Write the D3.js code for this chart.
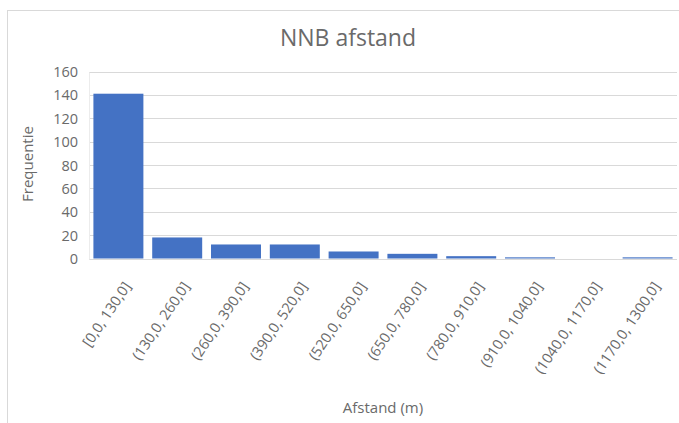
<!DOCTYPE html>
<html>
<head>
<meta charset="utf-8">
<script src="https://cdn.jsdelivr.net/npm/d3@7"></script>
<style>
  html, body { margin: 0; padding: 0; background: #ffffff; overflow: hidden; }
  svg { display: block; }
  text { font-family: "Open Sans", "Noto Sans", sans-serif; fill: #6a6a6a; }
</style>
</head>
<body>
<script>
const categories = ["[0,0, 130,0]", "(130,0, 260,0]", "(260,0, 390,0]", "(390,0, 520,0]", "(520,0, 650,0]",
                    "(650,0, 780,0]", "(780,0, 910,0]", "(910,0, 1040,0]", "(1040,0, 1170,0]", "(1170,0, 1300,0]"];
const frequencies = [141, 18, 12, 12, 6, 4, 2, 1, 0, 1];
const yTicks = [0, 20, 40, 60, 80, 100, 120, 140, 160];
const chartTitle = "NNB afstand";
const xTitle = "Afstand (m)";
const yTitle = "Frequentie";

const W = 679, H = 423;
const svg = d3.select("body").append("svg").attr("width", W).attr("height", H);

// outer chart border (cropped on right/bottom)
svg.append("rect").attr("x", 7.5).attr("y", 10.5).attr("width", 720).attr("height", 450)
  .attr("fill", "none").attr("stroke", "#d9d9d9").attr("stroke-width", 1);

const plotL = 89, plotR = 677, plotT = 71.5, plotB = 258.5;

const x = d3.scaleBand().domain(categories).range([plotL, plotR]).paddingInner(0.15).paddingOuter(0.075);
const y = d3.scaleLinear().domain([0, 160]).range([plotB, plotT]);

// gridlines
svg.append("g").selectAll("line").data(yTicks).join("line")
  .attr("x1", plotL).attr("x2", plotR)
  .attr("y1", d => Math.round(y(d)) + 0.5).attr("y2", d => Math.round(y(d)) + 0.5)
  .attr("stroke", "#d9d9d9").attr("stroke-width", 1);

// faint left edge
svg.append("line").attr("x1", plotL + 0.5).attr("x2", plotL + 0.5)
  .attr("y1", Math.round(y(160)) + 0.5).attr("y2", Math.round(y(0)) + 0.5)
  .attr("stroke", "#ececec").attr("stroke-width", 1);

// y axis labels
const yAxis = d3.axisLeft(y).tickValues(yTicks).tickSize(0).tickPadding(0);
const gy = svg.append("g").attr("transform", `translate(${plotL - 11},0)`).call(yAxis);
gy.select(".domain").remove();
gy.selectAll("text").style("font-size", "14.5px").attr("fill", "#6a6a6a")
  .style("font-family", "'Open Sans', sans-serif").attr("dy", "0.35em");

// bars
svg.append("g").selectAll("rect").data(frequencies).join("rect")
  .attr("x", (d, i) => x(categories[i]))
  .attr("width", x.bandwidth())
  .attr("y", d => y(d))
  .attr("height", d => y(0) - y(d))
  .attr("fill", "#4472c4");

// x axis labels, rotated
const gx = svg.append("g");
gx.selectAll("text").data(categories).join("text")
  .attr("transform", d => `translate(${x(d) + x.bandwidth() / 2 + 9},${plotB + 25}) rotate(-56)`)
  .attr("text-anchor", "end")
  .attr("dy", "0.35em")
  .style("font-size", "14.5px")
  .text(d => d);

// titles
svg.append("text").attr("x", 348).attr("y", 46).attr("text-anchor", "middle")
  .style("font-size", "23px").style("fill", "#6a6a6a").text(chartTitle);

svg.append("text").attr("x", 383).attr("y", 413).attr("text-anchor", "middle")
  .style("font-size", "15px").text(xTitle);

svg.append("text").attr("transform", `translate(33,164) rotate(-90)`).attr("text-anchor", "middle")
  .style("font-size", "15px").text(yTitle);
</script>
</body>
</html>
